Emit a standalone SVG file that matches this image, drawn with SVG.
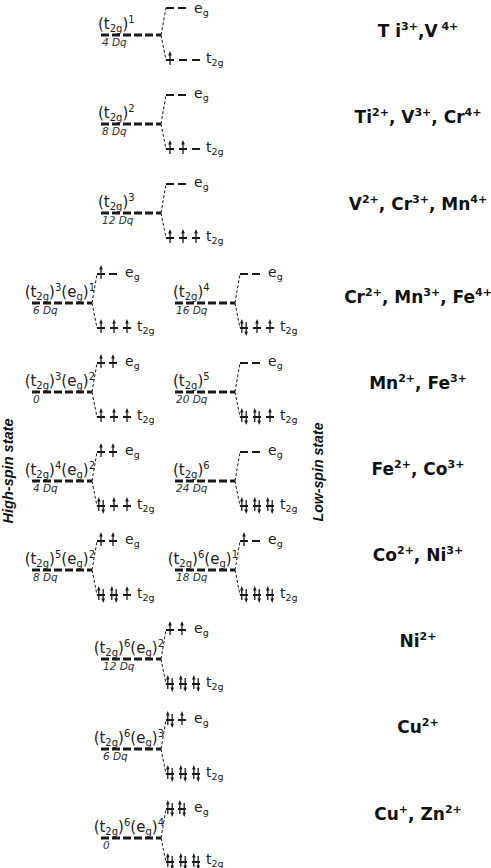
<svg xmlns="http://www.w3.org/2000/svg" xmlns:xlink="http://www.w3.org/1999/xlink" width="491" height="868" viewBox="0 0 491 868">
<style>
.main{stroke:#1a1a1a;stroke-width:3;stroke-dasharray:8 3;fill:none}
.br{stroke:#1a1a1a;stroke-width:1;stroke-dasharray:3 2;fill:none}
.slot{stroke:#1a1a1a;stroke-width:1.8;fill:none}
.arw line{stroke:#1a1a1a;stroke-width:1.3}
.arw path{fill:#1a1a1a}
.cf{font-family:"DejaVu Sans",sans-serif;font-size:15px;fill:#222}
.cf .s{font-size:10px}
.lv{font-family:"DejaVu Sans",sans-serif;font-size:14px;fill:#222}
.s{font-size:9.5px}
.dq{font-family:"DejaVu Sans",sans-serif;font-size:10.5px;font-style:italic;fill:#333}
.ion{font-family:"DejaVu Sans",sans-serif;font-weight:bold;font-size:17px;fill:#111;text-anchor:middle}
.sp{font-size:11px}
.vt{font-family:"Liberation Sans",sans-serif;font-weight:bold;font-style:italic;font-size:14px;fill:#111;text-anchor:middle}
.end{text-anchor:end}
</style>
<defs>
<g id="u" class="arw"><line x1="0" y1="5" x2="0" y2="-5"/><path d="M-1.8,-4.5L0,-9L1.8,-4.5Z"/></g>
<g id="d" class="arw"><line x1="0" y1="-6" x2="0" y2="4"/><path d="M-1.8,3.5L0,8L1.8,3.5Z"/></g>
<g id="p"><use href="#u" x="-2.2"/><use href="#d" x="2.2"/></g>
</defs>
<g id="connectors">
<path class="br" d="M161,35L166,8M161,35L166,60"/>
<path class="br" d="M161,124L166,95M161,124L166,149"/>
<path class="br" d="M161,213L166,184M161,213L166,238"/>
<path class="br" d="M92,303L97,274M92,303L97,328"/>
<path class="br" d="M235,303L240,274M235,303L240,328"/>
<path class="br" d="M92,392L97,363M92,392L97,417"/>
<path class="br" d="M235,392L240,363M235,392L240,417"/>
<path class="br" d="M92,481L97,452M92,481L97,506"/>
<path class="br" d="M235,481L240,452M235,481L240,506"/>
<path class="br" d="M92,570L97,541M92,570L97,595"/>
<path class="br" d="M235,570L240,541M235,570L240,595"/>
<path class="br" d="M161,659L166,630M161,659L166,684"/>
<path class="br" d="M161,749L166,720M161,749L166,774"/>
<path class="br" d="M161,838L166,809M161,838L166,862"/>
</g>
<g id="n1">
<line class="main" x1="101" y1="35" x2="161" y2="35"/>
<path class="slot" d="M166,8h8M178,8h8M166,60h8M179,60h8M192,60h8"/>
<use href="#u" x="170" y="60"/>
<text class="lv" x="194" y="12.5">e<tspan class="s" dy="3">g</tspan></text>
<text class="lv" x="206" y="63">t<tspan class="s" dy="3">2g</tspan></text>
<text class="cf" x="98" y="29">(t<tspan class="s" dy="3">2g</tspan><tspan dy="-3">)</tspan><tspan class="s" dy="-6">1</tspan></text>
<text class="dq" x="102" y="46">4 Dq</text>
</g>
<g id="n2">
<line class="main" x1="101" y1="124" x2="161" y2="124"/>
<path class="slot" d="M166,95h8M178,95h8M166,149h8M179,149h8M192,149h8"/>
<use href="#u" x="170" y="149"/><use href="#u" x="183" y="149"/>
<text class="lv" x="194" y="98">e<tspan class="s" dy="3">g</tspan></text>
<text class="lv" x="206" y="152">t<tspan class="s" dy="3">2g</tspan></text>
<text class="cf" x="98" y="118">(t<tspan class="s" dy="3">2g</tspan><tspan dy="-3">)</tspan><tspan class="s" dy="-6">2</tspan></text>
<text class="dq" x="102" y="135">8 Dq</text>
</g>
<g id="n3">
<line class="main" x1="101" y1="213" x2="161" y2="213"/>
<path class="slot" d="M166,184h8M178,184h8M166,238h8M179,238h8M192,238h8"/>
<use href="#u" x="170" y="238"/><use href="#u" x="183" y="238"/><use href="#u" x="196" y="238"/>
<text class="lv" x="194" y="187">e<tspan class="s" dy="3">g</tspan></text>
<text class="lv" x="206" y="241">t<tspan class="s" dy="3">2g</tspan></text>
<text class="cf" x="98" y="207">(t<tspan class="s" dy="3">2g</tspan><tspan dy="-3">)</tspan><tspan class="s" dy="-6">3</tspan></text>
<text class="dq" x="102" y="224">12 Dq</text>
</g>
<g id="n4h">
<line class="main" x1="32" y1="303" x2="92" y2="303"/>
<path class="slot" d="M97,274h8M109,274h8M97,328h8M110,328h8M123,328h8"/>
<use href="#u" x="101" y="274"/>
<use href="#u" x="101" y="328"/><use href="#u" x="114" y="328"/><use href="#u" x="127" y="328"/>
<text class="lv" x="125" y="277">e<tspan class="s" dy="3">g</tspan></text>
<text class="lv" x="137" y="331">t<tspan class="s" dy="3">2g</tspan></text>
<text class="cf end" x="95" y="297">(t<tspan class="s" dy="3">2g</tspan><tspan dy="-3">)</tspan><tspan class="s" dy="-6">3</tspan><tspan dy="6">(e</tspan><tspan class="s" dy="3">g</tspan><tspan dy="-3">)</tspan><tspan class="s" dy="-6">1</tspan></text>
<text class="dq" x="33" y="314">6 Dq</text>
</g>
<g id="n4l">
<line class="main" x1="175" y1="303" x2="235" y2="303"/>
<path class="slot" d="M240,274h8M252,274h8M240,328h8M253,328h8M266,328h8"/>
<use href="#p" x="244" y="328"/><use href="#u" x="257" y="328"/><use href="#u" x="270" y="328"/>
<text class="lv" x="268" y="277">e<tspan class="s" dy="3">g</tspan></text>
<text class="lv" x="280" y="331" font-size="13">t<tspan class="s" dy="3">2g</tspan></text>
<text class="cf" x="173" y="297">(t<tspan class="s" dy="3">2g</tspan><tspan dy="-3">)</tspan><tspan class="s" dy="-6">4</tspan></text>
<text class="dq" x="176" y="314">16 Dq</text>
</g>
<g id="n5h">
<line class="main" x1="32" y1="392" x2="92" y2="392"/>
<path class="slot" d="M97,363h8M109,363h8M97,417h8M110,417h8M123,417h8"/>
<use href="#u" x="101" y="363"/><use href="#u" x="113" y="363"/>
<use href="#u" x="101" y="417"/><use href="#u" x="114" y="417"/><use href="#u" x="127" y="417"/>
<text class="lv" x="125" y="366">e<tspan class="s" dy="3">g</tspan></text>
<text class="lv" x="137" y="420">t<tspan class="s" dy="3">2g</tspan></text>
<text class="cf end" x="95" y="386">(t<tspan class="s" dy="3">2g</tspan><tspan dy="-3">)</tspan><tspan class="s" dy="-6">3</tspan><tspan dy="6">(e</tspan><tspan class="s" dy="3">g</tspan><tspan dy="-3">)</tspan><tspan class="s" dy="-6">2</tspan></text>
<text class="dq" x="33" y="403">0</text>
</g>
<g id="n5l">
<line class="main" x1="175" y1="392" x2="235" y2="392"/>
<path class="slot" d="M240,363h8M252,363h8M240,417h8M253,417h8M266,417h8"/>
<use href="#p" x="244" y="417"/><use href="#p" x="257" y="417"/><use href="#u" x="270" y="417"/>
<text class="lv" x="268" y="366">e<tspan class="s" dy="3">g</tspan></text>
<text class="lv" x="280" y="420" font-size="13">t<tspan class="s" dy="3">2g</tspan></text>
<text class="cf" x="173" y="386">(t<tspan class="s" dy="3">2g</tspan><tspan dy="-3">)</tspan><tspan class="s" dy="-6">5</tspan></text>
<text class="dq" x="176" y="403">20 Dq</text>
</g>
<g id="n6h">
<line class="main" x1="32" y1="481" x2="92" y2="481"/>
<path class="slot" d="M97,452h8M109,452h8M97,506h8M110,506h8M123,506h8"/>
<use href="#u" x="101" y="452"/><use href="#u" x="113" y="452"/>
<use href="#p" x="101" y="506"/><use href="#u" x="114" y="506"/><use href="#u" x="127" y="506"/>
<text class="lv" x="125" y="455">e<tspan class="s" dy="3">g</tspan></text>
<text class="lv" x="137" y="509">t<tspan class="s" dy="3">2g</tspan></text>
<text class="cf end" x="95" y="475">(t<tspan class="s" dy="3">2g</tspan><tspan dy="-3">)</tspan><tspan class="s" dy="-6">4</tspan><tspan dy="6">(e</tspan><tspan class="s" dy="3">g</tspan><tspan dy="-3">)</tspan><tspan class="s" dy="-6">2</tspan></text>
<text class="dq" x="33" y="492">4 Dq</text>
</g>
<g id="n6l">
<line class="main" x1="175" y1="481" x2="235" y2="481"/>
<path class="slot" d="M240,452h8M252,452h8M240,506h8M253,506h8M266,506h8"/>
<use href="#p" x="244" y="506"/><use href="#p" x="257" y="506"/><use href="#p" x="270" y="506"/>
<text class="lv" x="268" y="455">e<tspan class="s" dy="3">g</tspan></text>
<text class="lv" x="280" y="509" font-size="13">t<tspan class="s" dy="3">2g</tspan></text>
<text class="cf" x="173" y="475">(t<tspan class="s" dy="3">2g</tspan><tspan dy="-3">)</tspan><tspan class="s" dy="-6">6</tspan></text>
<text class="dq" x="176" y="492">24 Dq</text>
</g>
<g id="n7h">
<line class="main" x1="32" y1="570" x2="92" y2="570"/>
<path class="slot" d="M97,541h8M109,541h8M97,595h8M110,595h8M123,595h8"/>
<use href="#u" x="101" y="541"/><use href="#u" x="113" y="541"/>
<use href="#p" x="101" y="595"/><use href="#p" x="114" y="595"/><use href="#u" x="127" y="595"/>
<text class="lv" x="125" y="544">e<tspan class="s" dy="3">g</tspan></text>
<text class="lv" x="137" y="598">t<tspan class="s" dy="3">2g</tspan></text>
<text class="cf end" x="95" y="564">(t<tspan class="s" dy="3">2g</tspan><tspan dy="-3">)</tspan><tspan class="s" dy="-6">5</tspan><tspan dy="6">(e</tspan><tspan class="s" dy="3">g</tspan><tspan dy="-3">)</tspan><tspan class="s" dy="-6">2</tspan></text>
<text class="dq" x="33" y="581">8 Dq</text>
</g>
<g id="n7l">
<line class="main" x1="175" y1="570" x2="235" y2="570"/>
<path class="slot" d="M240,541h8M252,541h8M240,595h8M253,595h8M266,595h8"/>
<use href="#u" x="244" y="541"/>
<use href="#p" x="244" y="595"/><use href="#p" x="257" y="595"/><use href="#p" x="270" y="595"/>
<text class="lv" x="268" y="544">e<tspan class="s" dy="3">g</tspan></text>
<text class="lv" x="280" y="598" font-size="13">t<tspan class="s" dy="3">2g</tspan></text>
<text class="cf end" x="238" y="564">(t<tspan class="s" dy="3">2g</tspan><tspan dy="-3">)</tspan><tspan class="s" dy="-6">6</tspan><tspan dy="6">(e</tspan><tspan class="s" dy="3">g</tspan><tspan dy="-3">)</tspan><tspan class="s" dy="-6">1</tspan></text>
<text class="dq" x="176" y="581">18 Dq</text>
</g>
<g id="n8">
<line class="main" x1="101" y1="659" x2="161" y2="659"/>
<path class="slot" d="M166,630h8M178,630h8M166,684h8M179,684h8M192,684h8"/>
<use href="#u" x="170" y="630"/><use href="#u" x="182" y="630"/>
<use href="#p" x="170" y="684"/><use href="#p" x="183" y="684"/><use href="#p" x="196" y="684"/>
<text class="lv" x="194" y="633">e<tspan class="s" dy="3">g</tspan></text>
<text class="lv" x="206" y="687">t<tspan class="s" dy="3">2g</tspan></text>
<text class="cf end" x="164" y="653">(t<tspan class="s" dy="3">2g</tspan><tspan dy="-3">)</tspan><tspan class="s" dy="-6">6</tspan><tspan dy="6">(e</tspan><tspan class="s" dy="3">g</tspan><tspan dy="-3">)</tspan><tspan class="s" dy="-6">2</tspan></text>
<text class="dq" x="103" y="670">12 Dq</text>
</g>
<g id="n9">
<line class="main" x1="101" y1="749" x2="161" y2="749"/>
<path class="slot" d="M166,720h8M178,720h8M166,774h8M179,774h8M192,774h8"/>
<use href="#p" x="170" y="720"/><use href="#u" x="182" y="720"/>
<use href="#p" x="170" y="774"/><use href="#p" x="183" y="774"/><use href="#p" x="196" y="774"/>
<text class="lv" x="194" y="723">e<tspan class="s" dy="3">g</tspan></text>
<text class="lv" x="206" y="777">t<tspan class="s" dy="3">2g</tspan></text>
<text class="cf end" x="164" y="743">(t<tspan class="s" dy="3">2g</tspan><tspan dy="-3">)</tspan><tspan class="s" dy="-6">6</tspan><tspan dy="6">(e</tspan><tspan class="s" dy="3">g</tspan><tspan dy="-3">)</tspan><tspan class="s" dy="-6">3</tspan></text>
<text class="dq" x="103" y="760">6 Dq</text>
</g>
<g id="n10">
<line class="main" x1="101" y1="838" x2="161" y2="838"/>
<path class="slot" d="M166,809h8M178,809h8M166,862h8M179,862h8M192,862h8"/>
<use href="#p" x="170" y="809"/><use href="#p" x="182" y="809"/>
<use href="#p" x="170" y="862"/><use href="#p" x="183" y="862"/><use href="#p" x="196" y="862"/>
<text class="lv" x="194" y="812">e<tspan class="s" dy="3">g</tspan></text>
<text class="lv" x="206" y="864">t<tspan class="s" dy="3">2g</tspan></text>
<text class="cf end" x="164" y="832">(t<tspan class="s" dy="3">2g</tspan><tspan dy="-3">)</tspan><tspan class="s" dy="-6">6</tspan><tspan dy="6">(e</tspan><tspan class="s" dy="3">g</tspan><tspan dy="-3">)</tspan><tspan class="s" dy="-6">4</tspan></text>
<text class="dq" x="103" y="849">0</text>
</g>
<g id="ions">
<text class="ion" x="418" y="37">T i<tspan class="sp" dy="-7">3+</tspan><tspan dy="7">,V</tspan><tspan class="sp" dy="-7"> 4+</tspan></text>
<text class="ion" x="418" y="123">Ti<tspan class="sp" dy="-7">2+</tspan><tspan dy="7">, V</tspan><tspan class="sp" dy="-7">3+</tspan><tspan dy="7">, Cr</tspan><tspan class="sp" dy="-7">4+</tspan></text>
<text class="ion" x="418" y="210">V<tspan class="sp" dy="-7">2+</tspan><tspan dy="7">, Cr</tspan><tspan class="sp" dy="-7">3+</tspan><tspan dy="7">, Mn</tspan><tspan class="sp" dy="-7">4+</tspan></text>
<text class="ion" x="418" y="303">Cr<tspan class="sp" dy="-7">2+</tspan><tspan dy="7">, Mn</tspan><tspan class="sp" dy="-7">3+</tspan><tspan dy="7">, Fe</tspan><tspan class="sp" dy="-7">4+</tspan></text>
<text class="ion" x="418" y="389">Mn<tspan class="sp" dy="-7">2+</tspan><tspan dy="7">, Fe</tspan><tspan class="sp" dy="-7">3+</tspan></text>
<text class="ion" x="418" y="475">Fe<tspan class="sp" dy="-7">2+</tspan><tspan dy="7">, Co</tspan><tspan class="sp" dy="-7">3+</tspan></text>
<text class="ion" x="418" y="561">Co<tspan class="sp" dy="-7">2+</tspan><tspan dy="7">, Ni</tspan><tspan class="sp" dy="-7">3+</tspan></text>
<text class="ion" x="418" y="647">Ni<tspan class="sp" dy="-7">2+</tspan></text>
<text class="ion" x="418" y="733">Cu<tspan class="sp" dy="-7">2+</tspan></text>
<text class="ion" x="418" y="820">Cu<tspan class="sp" dy="-7">+</tspan><tspan dy="7">, Zn</tspan><tspan class="sp" dy="-7">2+</tspan></text>
</g>
<g id="spin-labels">
<text class="vt" transform="translate(13,471) rotate(-90)" textLength="105" lengthAdjust="spacingAndGlyphs">High-spin state</text>
<text class="vt" transform="translate(323,472) rotate(-90)" textLength="99" lengthAdjust="spacingAndGlyphs">Low-spin state</text>
</g>
</svg>
